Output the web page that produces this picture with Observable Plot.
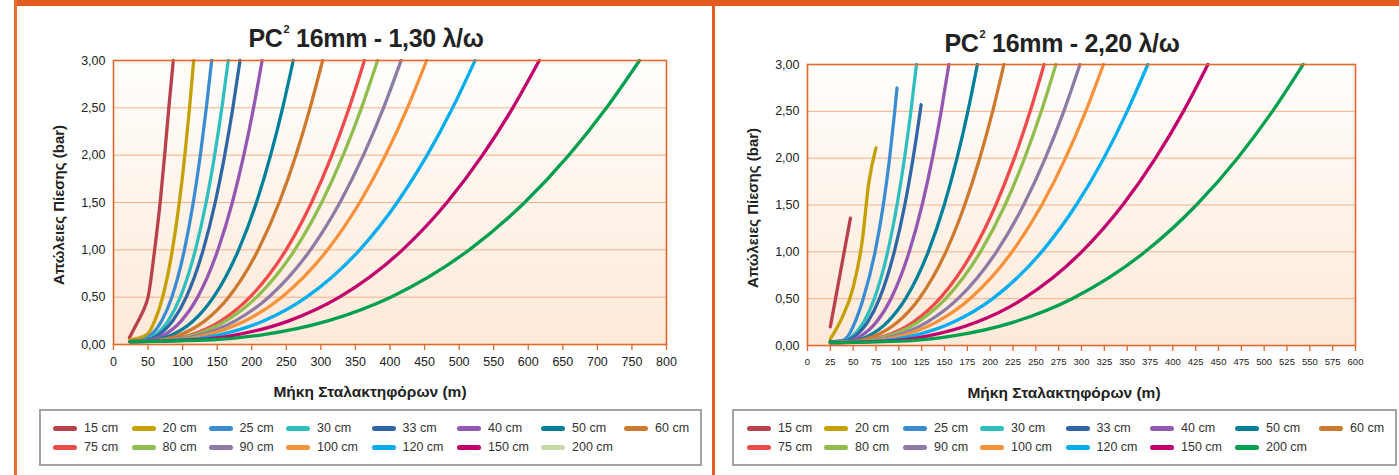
<!DOCTYPE html>
<html><head><meta charset="utf-8">
<script src="https://cdn.jsdelivr.net/npm/d3@7"></script>
<script src="https://cdn.jsdelivr.net/npm/@observablehq/plot@0.6"></script>
<style>
html,body{margin:0;padding:0;background:#fff;width:1399px;height:475px;overflow:hidden;position:relative;
 font-family:"Liberation Sans Narrow","Liberation Sans",Arial,sans-serif;color:#222;}
.abs{position:absolute}
.title{font-weight:bold;font-size:25px;white-space:nowrap;transform:translate(-50%,-50%);letter-spacing:-0.3px}
.title sup{font-size:11px;vertical-align:top;position:relative;top:-1px;margin-left:1px}
.axt{font-weight:bold;font-size:15.5px;white-space:nowrap;transform:translate(-50%,-50%);}
.axty{font-weight:bold;font-size:15px;white-space:nowrap;transform:translate(-50%,-50%) rotate(-90deg);}
.legbox{border:2px solid #a3a3a3;box-sizing:border-box;background:#fff}
.li{position:absolute;display:flex;align-items:center;font-size:12.5px;white-space:nowrap;transform:translateY(-50%);color:#333}
.sw{width:24px;height:5px;border-radius:3px;margin-right:7px}
</style></head><body>
<div id="root"></div>
<script>
// ---------- data ----------
const seriesNames = ["15 cm","20 cm","25 cm","30 cm","33 cm","40 cm","50 cm","60 cm","75 cm","80 cm","90 cm","100 cm","120 cm","150 cm","200 cm"];
const seriesColors = ["#b8414b","#c4a000","#3a8dd2","#2fbfbf","#2f67a6","#9558b2","#00809b","#cd7a2f","#f04b4b","#8fbe4e","#8c7ba6","#f7913a","#00aeef","#c2006d","#00a04e"];
const legendColorsLeft = ["#b8414b","#c4a000","#3a8dd2","#2fbfbf","#2f67a6","#9558b2","#00809b","#cd7a2f","#f04b4b","#8fbe4e","#8c7ba6","#f7913a","#00aeef","#c2006d","#c8d9a9"];
const legendColorsRight = seriesColors;

const yTicks = [0,0.5,1,1.5,2,2.5,3];
const xTicksLeft = [0,50,100,150,200,250,300,350,400,450,500,550,600,650,700,750,800];
const xTicksRight = [0,25,50,75,100,125,150,175,200,225,250,275,300,325,350,375,400,425,450,475,500,525,550,575,600];

const titleLeft = "1,30 λ/ω";
const titleRight = "2,20 λ/ω";
const xTitle = "Μήκη Σταλακτηφόρων (m)";
const yTitle = "Απώλειες Πίεσης (bar)";

// Left chart: PC² 16mm - 1,30 l/h  [length m, pressure loss bar]
const L15 = [[23,0.07],[30,0.17],[38,0.28],[45,0.39],[50,0.5],[59.5,1.0],[67.5,1.5],[74,2.0],[80,2.5],[86.5,3.0]];
const L20 = [[24,0.05],[47.6,0.1],[59.7,0.25],[71.1,0.5],[85.2,1.0],[95.2,1.5],[103.2,2.0],[110,2.5],[116,3.0]];
const L25 = [[24,0.03],[43.1,0.05],[54.2,0.1],[69.8,0.25],[84.4,0.5],[102.6,1.0],[115.4,1.5],[125.6,2.0],[134.3,2.5],[142,3.0]];
const L30 = [[24,0.03],[47,0.05],[60.4,0.1],[79.1,0.25],[96.6,0.5],[118.5,1.0],[134,1.5],[146.3,2.0],[156.8,2.5],[166,3.0]];
const L33 = [[24,0.03],[49.8,0.05],[64.7,0.1],[85.7,0.25],[105.3,0.5],[129.8,1.0],[147.1,1.5],[160.9,2.0],[172.7,2.5],[183,3.0]];
const L40 = [[24,0.03],[54.9,0.05],[72.9,0.1],[98.1,0.25],[121.7,0.5],[151.1,1.0],[171.9,1.5],[188.5,2.0],[202.6,2.5],[215,3.0]];
const L50 = [[24,0.03],[62.2,0.05],[84.4,0.1],[115.6,0.25],[144.7,0.5],[181.1,1.0],[206.8,1.5],[227.3,2.0],[244.7,2.5],[260,3.0]];
const L60 = [[24,0.03],[69.1,0.05],[95.3,0.1],[132.1,0.25],[166.5,0.5],[209.4,1.0],[239.7,1.5],[263.9,2.0],[284.4,2.5],[302.5,3.0]];
const L75 = [[24,0.03],[78.9,0.05],[110.8,0.1],[155.5,0.25],[197.4,0.5],[249.7,1.0],[286.5,1.5],[316,2.0],[341,2.5],[363,3.0]];
const L80 = [[24,0.03],[82,0.05],[115.6,0.1],[162.9,0.25],[207.1,0.5],[262.3,1.0],[301.2,1.5],[332.3,2.0],[358.8,2.5],[382,3.0]];
const L90 = [[24,0.03],[87.5,0.05],[124.4,0.1],[176.1,0.25],[224.5,0.5],[285,1.0],[327.6,1.5],[361.6,2.0],[390.6,2.5],[416,3.0]];
const L100 = [[24,0.03],[93.5,0.05],[133.8,0.1],[190.5,0.25],[243.4,0.5],[309.6,1.0],[356.2,1.5],[393.5,2.0],[425.2,2.5],[453,3.0]];
const L120 = [[24,0.03],[104.8,0.05],[151.7,0.1],[217.6,0.25],[279.2,0.5],[356.2,1.0],[410.4,1.5],[453.8,2.0],[490.6,2.5],[523,3.0]];
const L150 = [[24,0.03],[119.9,0.05],[175.6,0.1],[253.7,0.25],[326.8,0.5],[418.1,1.0],[482.4,1.5],[533.9,2.0],[577.6,2.5],[616,3.0]];
const L200 = [[24,0.03],[143.4,0.05],[212.7,0.1],[310,0.25],[401,0.5],[514.6,1.0],[594.7,1.5],[658.8,2.0],[713.2,2.5],[761,3.0]];

// Right chart: PC² 16mm - 2,20 l/h
const R15 = [[25,0.2],[36,0.78],[47,1.36]];
const R20 = [[25,0.07],[38,0.3],[50,0.62],[60,1.12],[67,1.73],[75,2.11]];
const R25 = [[25,0.04],[37.2,0.05],[44.3,0.1],[52,0.25],[61,0.5],[74,1.0],[83,1.5],[89.9,2.0],[95.5,2.5],[98,2.75]];
const R30 = [[25,0.04],[40.3,0.05],[49.1,0.1],[61.6,0.25],[73.2,0.5],[87.8,1.0],[98,1.5],[106.2,2.0],[113.2,2.5],[119.3,3.0]];
const R33 = [[25,0.04],[42,0.05],[51.9,0.1],[65.8,0.25],[78.8,0.5],[95,1.0],[106.5,1.5],[115.6,2.0],[123.4,2.5],[124.4,2.57]];
const R40 = [[25,0.04],[46,0.05],[58.2,0.1],[75.4,0.25],[91.4,0.5],[111.4,1.0],[125.5,1.5],[136.8,2.0],[146.4,2.5],[154.8,3.0]];
const R50 = [[25,0.04],[51.1,0.05],[66.2,0.1],[87.5,0.25],[107.4,0.5],[132.2,1.0],[149.7,1.5],[163.7,2.0],[175.6,2.5],[186,3.0]];
const R60 = [[25,0.03],[55.8,0.05],[73.6,0.1],[98.7,0.25],[122.2,0.5],[151.5,1.0],[172.1,1.5],[188.6,2.0],[202.7,2.5],[215,3.0]];
const R75 = [[25,0.03],[62.9,0.05],[84.9,0.1],[115.8,0.25],[144.7,0.5],[180.8,1.0],[206.2,1.5],[226.5,2.0],[243.8,2.5],[259,3.0]];
const R80 = [[25,0.03],[65,0.05],[88.2,0.1],[120.8,0.25],[151.3,0.5],[189.4,1.0],[216.3,1.5],[237.7,2.0],[256,2.5],[272,3.0]];
const R90 = [[25,0.03],[69.3,0.05],[95,0.1],[131,0.25],[164.8,0.5],[206.9,1.0],[236.6,1.5],[260.4,2.0],[280.6,2.5],[298.3,3.0]];
const R100 = [[25,0.03],[73.4,0.05],[101.5,0.1],[141,0.25],[177.9,0.5],[224,1.0],[256.5,1.5],[282.5,2.0],[304.6,2.5],[324,3.0]];
const R120 = [[25,0.03],[81.3,0.05],[114,0.1],[159.9,0.25],[202.8,0.5],[256.4,1.0],[294.2,1.5],[324.4,2.0],[350,2.5],[372.6,3.0]];
const R150 = [[25,0.03],[92,0.05],[130.8,0.1],[185.4,0.25],[236.5,0.5],[300.2,1.0],[345.1,1.5],[381.1,2.0],[411.6,2.5],[438.4,3.0]];
const R200 = [[25,0.03],[108.9,0.05],[157.5,0.1],[225.8,0.25],[289.7,0.5],[369.6,1.0],[425.8,1.5],[470.8,2.0],[509,2.5],[542.6,3.0]];

const leftCurves = [L15,L20,L25,L30,L33,L40,L50,L60,L75,L80,L90,L100,L120,L150,L200];
const rightCurves = [R15,R20,R25,R30,R33,R40,R50,R60,R75,R80,R90,R100,R120,R150,R200];

// ---------- layout ----------
const legendColsLeft = [53,131.5,208.6,286,371.5,457,541,624];
const legendColsRight = [747,824,903,980,1065.5,1150,1235,1319];
const legendRows = [428,447];

const root = document.getElementById("root");
const fmtY = d => d.toFixed(2).replace(".", ",");

function chart(curves, opts) {
  const rows = curves.flatMap((pts, i) => pts.map(([x, y]) => ({name: seriesNames[i], x, y})));
  const svg = Plot.plot({
    width: opts.width, height: opts.height,
    marginLeft: opts.mL, marginRight: opts.mR, marginTop: opts.mT, marginBottom: opts.mB,
    style: {background: "transparent", fontFamily: '"Liberation Sans Narrow","Liberation Sans",Arial,sans-serif', fontSize: "12.5px", color: "#222", overflow: "visible"},
    x: {domain: [0, opts.xMax], label: null},
    y: {domain: [0, 3], label: null},
    color: {domain: seriesNames, range: seriesColors},
    marks: [
      Plot.frame({fill: `url(#${opts.gid})`, stroke: null}),
      Plot.gridY(yTicks.slice(1), {stroke: "#f5b088", strokeOpacity: 1, strokeWidth: 1}),
      Plot.line(rows, {x: "x", y: "y", z: "name", stroke: "name", strokeWidth: 3.3, curve: "monotone-x", strokeLinecap: "round"}),
      Plot.frame({stroke: "#e0692b", strokeWidth: 1.6}),
      Plot.axisX(opts.xTicks, {tickSize: 6, tickPadding: 7, stroke: "#e0692b", strokeWidth: 1.3, fontSize: opts.xFont, label: null, tickFormat: d => String(d)}),
      Plot.axisY(yTicks, {tickSize: 0, tickPadding: 8, tickFormat: fmtY, label: null, fontSize: "12.5px"})
    ]
  });
  d3.select(svg).insert("defs", ":first-child").html(
    `<linearGradient id="${opts.gid}" x1="0" y1="0" x2="0" y2="1"><stop offset="0" stop-color="#fffefc"/><stop offset="1" stop-color="#fde9d9"/></linearGradient>`);
  svg.style.position = "absolute";
  svg.style.left = opts.left + "px";
  svg.style.top = "0px";
  root.appendChild(svg);
}

chart(leftCurves, {width: 712, height: 380, mL: 113, mR: 46, mT: 60, mB: 36, xMax: 800, xTicks: xTicksLeft, xFont: "12.5px", gid: "gL", left: 0});
chart(rightCurves, {width: 687, height: 380, mL: 95, mR: 44, mT: 64, mB: 35, xMax: 600, xTicks: xTicksRight, xFont: "9.5px", gid: "gR", left: 712});

function addDiv(cls, x, y, html, extra) {
  const d = document.createElement("div");
  d.className = "abs " + cls;
  d.style.left = x + "px"; d.style.top = y + "px";
  d.innerHTML = html;
  if (extra) Object.assign(d.style, extra);
  root.appendChild(d);
  return d;
}

// frame decorations
addDiv("", 14, 0, "", {width: "1385px", height: "6px", background: "#e05c1f"});
addDiv("", 14, 0, "", {width: "3px", height: "475px", background: "#ec6e2c"});
addDiv("", 712, 0, "", {width: "3px", height: "475px", background: "#e05c1f"});

// titles
addDiv("title", 366, 38, `PC<sup>2</sup> 16mm - ${titleLeft}`);
addDiv("title", 1062, 43, `PC<sup>2</sup> 16mm - ${titleRight}`);
addDiv("axt", 370, 392, xTitle);
addDiv("axt", 1064, 393, xTitle);
addDiv("axty", 58, 205, yTitle);
addDiv("axty", 752, 208, yTitle);

// legends
function legend(boxX, boxW, cols, colors) {
  addDiv("legbox", boxX, 409, "", {width: boxW + "px", height: "57px"});
  seriesNames.forEach((name, i) => {
    const c = i % 8, r = Math.floor(i / 8);
    addDiv("li", cols[c], legendRows[r], `<span class="sw" style="background:${colors[i]}"></span>${name}`);
  });
}
legend(39, 663, legendColsLeft, legendColorsLeft);
legend(732, 665, legendColsRight, legendColorsRight);
</script>
</body></html>
